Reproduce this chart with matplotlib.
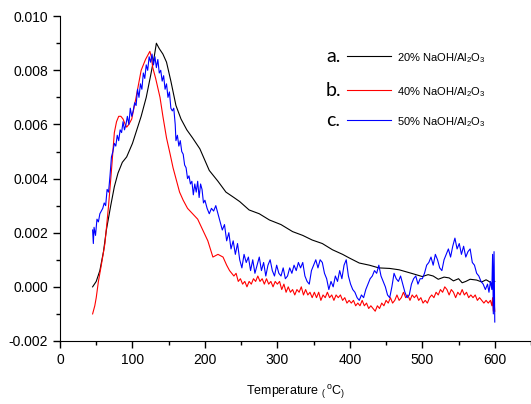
import matplotlib
matplotlib.use('Agg')
import matplotlib.pyplot as plt
from matplotlib.lines import Line2D

# --- data (temperature in C, signal) ---
temp_a = [45, 50, 55, 60, 64, 70, 75, 80, 86, 92, 100, 106, 112, 119, 125, 130, 133, 137, 142,
          147, 153, 160, 167, 175, 183, 193, 206, 218, 229, 240, 248, 261, 275, 289, 305, 321,
          335, 348, 362, 376, 390, 399, 413, 427, 440, 455, 468, 485, 500, 508, 515, 522, 530,
          537, 543, 550, 555, 560, 566, 575, 582, 588, 592, 596, 600]
sig_a = [0.0000, 0.0002, 0.0006, 0.0013, 0.0021, 0.0030, 0.0037, 0.0042, 0.0046, 0.0048, 0.0053,
         0.0058, 0.0063, 0.0070, 0.0078, 0.0085, 0.0090, 0.0088, 0.0086, 0.0083, 0.0076, 0.0067,
         0.0062, 0.0058, 0.0055, 0.0051, 0.0043, 0.0039, 0.0035, 0.0033, 0.00315, 0.00284,
         0.0027, 0.00247, 0.0023, 0.00204, 0.0019, 0.00173, 0.0016, 0.00137, 0.0012, 0.00107,
         0.00088, 0.0008, 0.0007, 0.00068, 0.00063, 0.0005, 0.00038, 0.00045, 0.0004, 0.00028,
         0.00036, 0.00033, 0.00022, 0.0003, 0.00015, 0.0002, 0.00028, 0.00025, 0.00018, 0.00026,
         0.0002, 0.00012, 0.0002]

temp_b = [45, 48, 50, 53, 57, 62, 67, 71, 75, 78, 81, 84, 87, 90, 92, 95, 99, 105, 112, 118, 122,
          124, 126, 128, 132, 138, 142, 147, 152, 156, 160, 165, 170, 176, 183, 190, 197, 204, 211,
          218, 225, 230, 234,
          240, 243, 246, 249, 252, 255, 258, 261, 264, 267, 270, 273, 276, 279, 282, 285, 288, 291,
          294, 297, 300, 303, 306, 309, 312, 315, 318, 321, 324, 327, 330, 333, 336, 339, 342, 345,
          348, 351, 354, 357, 360, 363, 366, 369, 372, 375, 378, 381, 384, 387, 390, 393, 396, 399,
          402, 405, 408, 411, 414, 417, 420, 423, 426, 429, 432, 435, 438, 441, 444, 447, 450, 453,
          456, 459, 462, 465, 468, 471, 474, 477, 480, 483, 486, 489, 492, 495, 498, 501, 504, 507,
          510, 513, 516, 519, 522, 525, 528, 531, 534, 537, 540, 543, 546, 549, 552, 555, 558, 561,
          564, 567, 570, 573, 576, 579, 582, 585, 588, 591, 594, 596, 597, 598, 599, 600]
sig_b = [-0.0010, -0.0007, -0.0004, 0.0002, 0.0008, 0.0016, 0.0030, 0.0043, 0.0057, 0.0061, 0.0063,
         0.0063, 0.0062, 0.0060, 0.0059, 0.0060, 0.0062, 0.0070, 0.0080, 0.0084, 0.0086, 0.0087,
         0.0085, 0.0081, 0.0077, 0.0070, 0.0063, 0.0055, 0.0049, 0.0044, 0.0040, 0.0035, 0.0032,
         0.0029, 0.0027, 0.0025, 0.0021, 0.0017, 0.0011, 0.0012, 0.0011, 0.0008, 0.0006,
         0.0004, 0.0005, 0.0002, 0.0003, 0.0001, 0.0002, 0.0000, 0.0002, 0.0001, 0.0003, 0.0002,
         0.0004, 0.0002, 0.0003, 0.0001, 0.0003, 0.0001, 0.0002, 0.0000, 0.0002, 0.0001, 0.0002,
         -0.0001, 0.0001, -0.0002, 0.0000, -0.0002, -0.0001, -0.0003, -0.0001, -0.0002, 0.0000,
         -0.0003, -0.0001, -0.0003, -0.0002, -0.0004, -0.0002, -0.0004, -0.0002, -0.0005, -0.0003,
         -0.0004, -0.0002, -0.0004, -0.0003, -0.0005, -0.0003, -0.0004, -0.0003, -0.0005, -0.0004,
         -0.0006, -0.0005, -0.0006, -0.0005, -0.0007, -0.0006, -0.0007, -0.0005, -0.0007, -0.0006,
         -0.0008, -0.0007, -0.0008, -0.0009, -0.0007, -0.0008, -0.0006, -0.0007, -0.0005, -0.0006,
         -0.0004, -0.0006, -0.0005, -0.0003, -0.0005, -0.0004, -0.0002, -0.0004, -0.0003, -0.0005,
         -0.0003, -0.0004, -0.0003, -0.0005, -0.0004, -0.0006, -0.0005, -0.0006, -0.0004, -0.0003,
         -0.0004, -0.0002, -0.0003, -0.0001, -0.0002, 0.0000, -0.0001, -0.0003, -0.0001, -0.0002,
         -0.0004, -0.0002, -0.0003, -0.0001, -0.0003, -0.0002, -0.0004, -0.0003, -0.0004, -0.0003,
         -0.0005, -0.0004, -0.0005, -0.0006, -0.0005, -0.0006, -0.0005, -0.0007, -0.0004, -0.0009,
         -0.0005, -0.0009]

temp_c = [45, 46, 47, 49, 51, 53, 55, 57, 59, 61, 63, 65, 67, 69, 71, 73, 75, 77, 79, 81, 83, 85,
          87, 89, 91, 93, 95, 97, 99, 101, 103, 105, 107, 109, 111, 113, 115, 117, 119, 121, 123,
          125, 127, 129, 131, 133, 135, 137, 139, 141, 143, 145, 147, 149, 151, 153, 155, 157, 159,
          160, 162, 164, 166, 168, 170, 172, 174, 176, 178, 180, 182, 184, 186, 188, 190, 192, 194,
          196, 198, 200, 203, 206, 209, 212, 215, 218, 221, 224, 227, 230, 233, 236, 239, 242, 245,
          248, 251, 254, 257, 260, 263, 266, 269, 272, 275, 278, 281, 284, 287, 290, 293, 296, 299,
          302, 305, 308, 311, 314, 317, 320, 323, 326, 329, 332, 335, 338, 341, 344, 347, 350, 353,
          356, 359, 362, 365, 368, 371, 374, 377, 380, 383, 386, 389, 392, 395, 398, 401, 404, 407,
          410, 413, 416, 419, 422, 425, 428, 431, 434, 437, 440, 443, 446, 449, 452, 455, 458, 461,
          464, 467, 470, 473, 476, 479, 482, 485, 488, 491, 494, 497, 500, 503, 506, 509, 512, 515,
          518, 521, 524, 527, 530, 533, 536, 539, 542, 545, 548, 551, 554, 557, 560, 563, 566, 569,
          572, 575, 578, 581, 584, 587, 590, 592, 594, 596, 597, 598, 599, 600]
sig_c = [0.0021, 0.0016, 0.0022, 0.0019, 0.0025, 0.0024, 0.0027, 0.0028, 0.0029, 0.0031, 0.0030,
         0.0036, 0.0035, 0.0041, 0.0048, 0.0050, 0.0053, 0.0052, 0.0056, 0.0054, 0.0058, 0.0057,
         0.0061, 0.0058, 0.0060, 0.0063, 0.0060, 0.0066, 0.0063, 0.0065, 0.0068, 0.0067, 0.0073,
         0.0070, 0.0075, 0.0073, 0.0079, 0.0077, 0.0082, 0.0080, 0.0085, 0.0083, 0.0086, 0.0082,
         0.0085, 0.0081, 0.0084, 0.0079, 0.0080, 0.0076, 0.0078, 0.0073, 0.0075, 0.0070, 0.0072,
         0.0066, 0.0065, 0.0066, 0.0060, 0.0054, 0.0056, 0.0052, 0.0054, 0.0050, 0.0049, 0.0045,
         0.0044, 0.0040, 0.0041, 0.0038, 0.0039, 0.0034, 0.0038, 0.0035, 0.0039, 0.0033, 0.0038,
         0.0036, 0.0031, 0.0032, 0.0029, 0.0027, 0.0029, 0.0028, 0.0030, 0.0027, 0.0024, 0.0021,
         0.0023, 0.0017, 0.0020, 0.0014, 0.0017, 0.0012, 0.0016, 0.0010, 0.0007, 0.0012, 0.0009,
         0.0011, 0.0006, 0.0010, 0.0005, 0.0008, 0.0011, 0.0006, 0.0009, 0.0004, 0.0008, 0.0010,
         0.0006, 0.0004, 0.0008, 0.0005, 0.0004, 0.0007, 0.0003, 0.0004, 0.0007, 0.0005, 0.0008,
         0.0006, 0.0009, 0.0007, 0.0009, 0.0004, 0.0002, 0.0001, 0.0006, 0.0008, 0.0010, 0.0007,
         0.0010, 0.0009, 0.0005, 0.0003, -0.0001, 0.0002, 0.0000, 0.0004, 0.0002, 0.0006, 0.0003,
         0.0008, 0.0010, 0.0004, 0.0001, -0.0001, -0.0002, -0.0004, -0.0005, -0.0003, -0.0004,
         -0.0001, 0.0001, 0.0003, 0.0004, 0.0006, 0.0005, 0.0008, 0.0004, 0.0002, 0.0000, -0.0003,
         -0.0004, 0.0000, 0.0005, 0.0003, 0.0002, 0.0004, 0.0001, -0.0002, -0.0004, -0.0003, 0.0001,
         0.0003, 0.0004, 0.0001, 0.0003, 0.0003, 0.0005, 0.0008, 0.0009, 0.0011, 0.0008, 0.0012,
         0.0010, 0.0007, 0.0006, 0.0010, 0.0012, 0.0014, 0.0011, 0.0015, 0.0018, 0.0014, 0.0016,
         0.0012, 0.0015, 0.0011, 0.0013, 0.0014, 0.0009, 0.0008, 0.0005, 0.0004, 0.0002, 0.0001,
         -0.0001, 0.0001, -0.0002, 0.0002, -0.0001, 0.0012, -0.0010, 0.0013, -0.0013]

labels = ['20% NaOH/Al$_2$O$_3$', '40% NaOH/Al$_2$O$_3$', '50% NaOH/Al$_2$O$_3$']
letters = ['a.', 'b.', 'c.']
colors = ['black', 'red', 'blue']

plt.rcParams['font.family'] = ['Liberation Sans', 'DejaVu Sans']
plt.rcParams['mathtext.default'] = 'regular'

fig = plt.figure(figsize=(5.31, 4.04), dpi=100)
ax = fig.add_axes([0.113, 0.156, 0.887, 0.804])

series = [(temp_a, sig_a), (temp_b, sig_b), (temp_c, sig_c)]
for (t, s), c in zip(series, colors):
    ax.plot(t, s, color=c, lw=0.8)

ax.set_xlim(0, 648)
ax.set_ylim(-0.002, 0.010)
ax.set_xticks(range(0, 601, 100))
ax.set_xticks(range(50, 651, 100), minor=True)
ax.set_yticks([-0.002, 0.000, 0.002, 0.004, 0.006, 0.008, 0.010])
ax.set_yticks([-0.001, 0.001, 0.003, 0.005, 0.007, 0.009], minor=True)
ax.set_yticklabels(['-0.002', '0.000', '0.002', '0.004', '0.006', '0.008', '0.010'])
ax.tick_params(which='major', length=5, width=1, labelsize=10, direction='out')
ax.tick_params(which='minor', length=3, width=1, direction='out')
ax.spines['top'].set_visible(False)
ax.spines['right'].set_visible(False)

ax.set_xlabel(r'Temperature $_{(}\,^{o}$C$_{)}$', fontsize=9, labelpad=12)

# hand-made key, as in the original
ys = [0.875, 0.77, 0.678]
for y, let, lab, c in zip(ys, letters, labels, colors):
    ax.text(0.58, y, let, transform=ax.transAxes, fontsize=14, ha='center', va='center',
            family=['Lato', 'DejaVu Sans'])
    ax.add_line(Line2D([0.609, 0.703], [y + 0.003, y + 0.003], transform=ax.transAxes,
                       color=c, lw=0.8))
    ax.text(0.716, y - 0.005, lab, transform=ax.transAxes, fontsize=8, ha='left', va='center')

fig.savefig('out.png', dpi=100)
